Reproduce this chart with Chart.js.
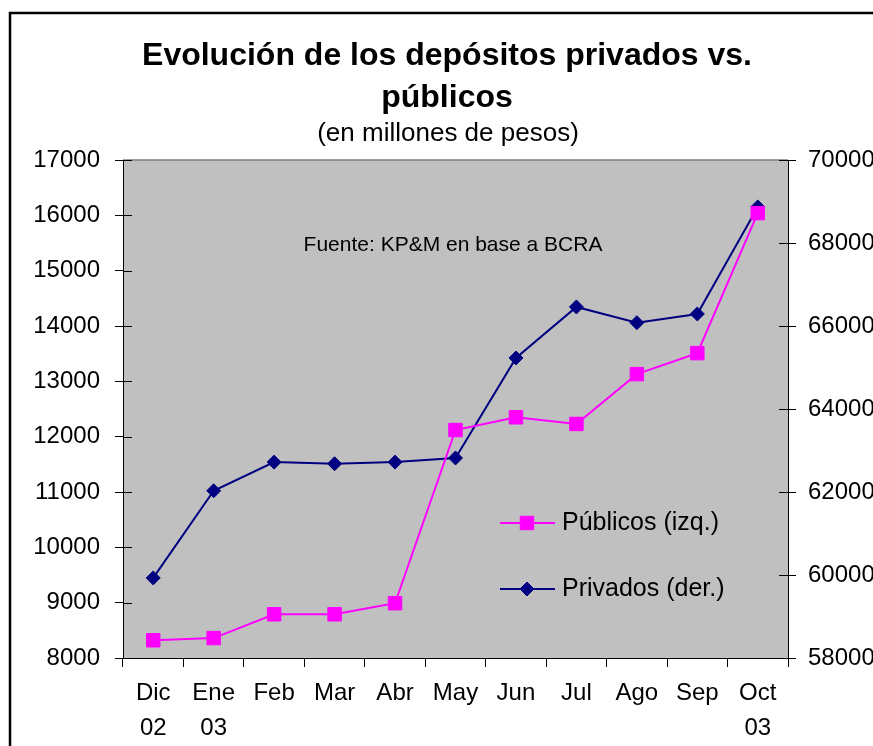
<!DOCTYPE html>
<html>
<head>
<meta charset="utf-8">
<script src="https://cdn.jsdelivr.net/npm/chart.js@4.4.0/dist/chart.umd.min.js"></script>
<style>
    html, body { margin: 0; padding: 0; background: #fff; overflow: hidden; }
    #wrap { position: absolute; left: 0; top: 0; width: 890px; height: 760px; }
</style>
</head>
<body>
<div id="wrap"><canvas id="myChart"></canvas></div>
<script>
const months = [['Dic', '02'], ['Ene', '03'], 'Feb', 'Mar', 'Abr', 'May', 'Jun', 'Jul', 'Ago', 'Sep', ['Oct', '03']];
const publicos = [8320, 8360, 8790, 8790, 8990, 12120, 12350, 12230, 13130, 13510, 16040];
const privados = [59930, 62030, 62720, 62680, 62720, 62820, 65230, 66460, 66080, 66290, 68870];
const leftRange = [8000, 17000, 1000];
const rightRange = [58000, 70000, 2000];

const FONT = "'Liberation Sans', Arial, sans-serif";

function drawMarker(ctx, style, radius, color, x, y) {
    ctx.save();
    ctx.fillStyle = color;
    ctx.strokeStyle = color;
    ctx.lineWidth = 1;
    Chart.helpers.drawPoint(ctx, { pointStyle: style, radius: radius, rotation: 0, borderWidth: 1 }, x, y);
    ctx.restore();
}

const decor = {
    id: 'decor',
    beforeDraw(chart) {
        const ctx = chart.ctx;
        const a = chart.chartArea;
        ctx.save();
        ctx.fillStyle = '#fff';
        ctx.fillRect(0, 0, chart.width, chart.height);
        ctx.fillStyle = '#C0C0C0';
        ctx.fillRect(a.left, a.top, a.right - a.left, a.bottom - a.top);
        ctx.strokeStyle = '#808080';
        ctx.lineWidth = 1.5;
        ctx.beginPath();
        ctx.moveTo(a.left, a.top);
        ctx.lineTo(a.right, a.top);
        ctx.stroke();
        ctx.restore();
    },
    beforeDatasetsDraw(chart) {
        // tick stubs inside the plot
        const ctx = chart.ctx;
        ctx.save();
        ctx.strokeStyle = '#000';
        ctx.lineWidth = 1;
        ['y', 'y1'].forEach(id => {
            const s = chart.scales[id];
            const x = id === 'y' ? chart.chartArea.left : chart.chartArea.right;
            const dir = id === 'y' ? 1 : -1;
            s.ticks.forEach((t, i) => {
                const py = Math.round(s.getPixelForTick(i)) + 0.5;
                ctx.beginPath();
                ctx.moveTo(x, py);
                ctx.lineTo(x + dir * 9, py);
                ctx.stroke();
            });
        });
        ctx.restore();
    },
    afterDraw(chart) {
        const ctx = chart.ctx;
        ctx.save();
        // outer frame
        ctx.strokeStyle = '#000';
        ctx.lineWidth = 2.5;
        ctx.beginPath();
        ctx.moveTo(10, chart.height);
        ctx.lineTo(10, 13);
        ctx.lineTo(chart.width, 13);
        ctx.stroke();

        ctx.fillStyle = '#000';
        ctx.textAlign = 'center';
        ctx.textBaseline = 'alphabetic';
        ctx.font = 'bold 32px ' + FONT;
        ctx.fillText('Evolución de los depósitos privados vs.', 447, 65);
        ctx.fillText('públicos', 447, 107);
        ctx.font = '26px ' + FONT;
        ctx.fillText('(en millones de pesos)', 448, 141);
        ctx.font = '21px ' + FONT;
        ctx.fillText('Fuente: KP&M en base a BCRA', 453, 251);

        // legend
        const items = [
            { label: 'Públicos (izq.)', ds: chart.data.datasets[0], y: 523 },
            { label: 'Privados (der.)', ds: chart.data.datasets[1], y: 589 }
        ];
        items.forEach(it => {
            ctx.strokeStyle = it.ds.borderColor;
            ctx.lineWidth = 2;
            ctx.beginPath();
            ctx.moveTo(500, it.y);
            ctx.lineTo(555, it.y);
            ctx.stroke();
            drawMarker(ctx, it.ds.pointStyle, it.ds.pointRadius, it.ds.borderColor, 527, it.y);
            ctx.fillStyle = '#000';
            ctx.textAlign = 'left';
            ctx.textBaseline = 'middle';
            ctx.font = '25px ' + FONT;
            ctx.fillText(it.label, 562, it.y);
        });
        ctx.restore();
    }
};

const ctx = document.getElementById('myChart').getContext('2d');
const myChart = new Chart(ctx, {
    type: 'line',
    data: {
        labels: months,
        datasets: [{
            label: 'Públicos (izq.)',
            data: publicos,
            yAxisID: 'y',
            borderColor: '#FF00FF',
            backgroundColor: '#FF00FF',
            borderWidth: 2,
            pointStyle: 'rect',
            pointRadius: 9.5,
            pointBorderWidth: 1,
            tension: 0
        }, {
            label: 'Privados (der.)',
            data: privados,
            yAxisID: 'y1',
            borderColor: '#000080',
            backgroundColor: '#000080',
            borderWidth: 2,
            pointStyle: 'rectRot',
            pointRadius: 7,
            pointBorderWidth: 1,
            tension: 0
        }]
    },
    options: {
        responsive: true,
        maintainAspectRatio: false,
        animation: false,
        layout: { padding: { top: 160, left: 0, right: 0, bottom: 0 } },
        plugins: {
            legend: { display: false },
            tooltip: { enabled: false },
            title: { display: false }
        },
        scales: {
            x: {
                offset: true,
                grid: { offset: true, drawOnChartArea: false, tickLength: 9, tickColor: '#000' },
                border: { color: '#000', width: 1 },
                ticks: {
                    color: '#000',
                    font: { family: FONT, size: 24, lineHeight: '35px' },
                    padding: 9,
                    maxRotation: 0,
                    autoSkip: false
                },
                afterFit: (s) => { s.height = 102; }
            },
            y: {
                position: 'left',
                min: leftRange[0],
                max: leftRange[1],
                ticks: {
                    stepSize: leftRange[2],
                    color: '#000',
                    padding: 15,
                    font: { family: FONT, size: 24 },
                    callback: (v) => String(v)
                },
                grid: { drawOnChartArea: false, tickLength: 8, tickColor: '#000' },
                border: { color: '#000', width: 1 },
                afterFit: (s) => { s.width = 123; }
            },
            y1: {
                position: 'right',
                min: rightRange[0],
                max: rightRange[1],
                ticks: {
                    stepSize: rightRange[2],
                    color: '#000',
                    padding: 12,
                    font: { family: FONT, size: 24 },
                    callback: (v) => String(v)
                },
                grid: { drawOnChartArea: false, tickLength: 8, tickColor: '#000' },
                border: { color: '#000', width: 1 },
                afterFit: (s) => { s.width = 102; }
            }
        }
    },
    plugins: [decor]
});
</script>
</body>
</html>
